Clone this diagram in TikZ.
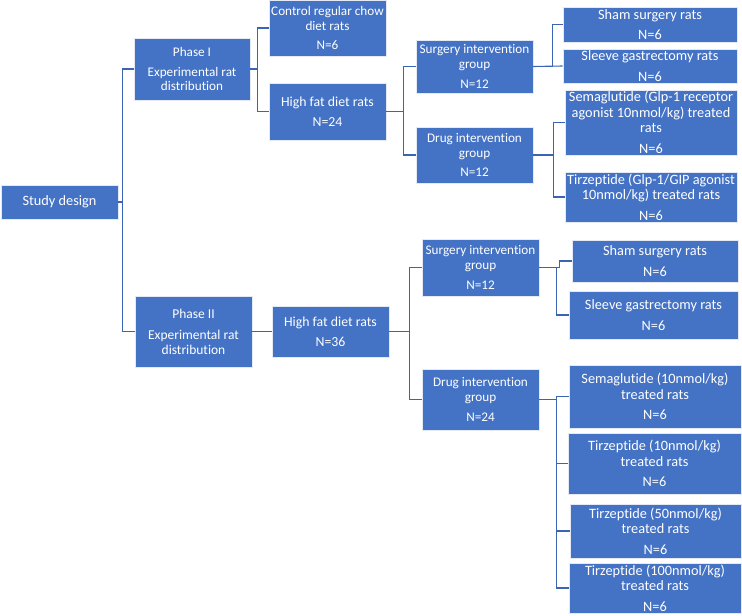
\documentclass[tikz,border=0pt]{standalone}
\usepackage{fontspec}
\setmainfont{Carlito}[Ligatures=NoCommon]
\usepackage{tikz}
\usetikzlibrary{arrows.meta, positioning}
\definecolor{sblue}{HTML}{4472C4}
\definecolor{sline}{HTML}{3B65B3}
\tikzset{
  sbox/.style={draw=white!85!sblue, fill=sblue, text=white, line width=0.6pt,
               inner sep=0pt, align=center,
               font=\fontsize{14.3}{15.5}\selectfont},
  nbox/.style={sbox, minimum width=117, font=\fontsize{13.2}{14.8}\selectfont},
  conn/.style={draw=sline, line width=1.1pt},
}

\begin{document}
\begin{tikzpicture}[x=1pt, y=-1pt]
  \useasboundingbox (0,0) rectangle (742,616);

  \node[sbox, minimum width=117, minimum height=34] (sd) at (59.5,202) {Study design};

  % phase I
  \node[nbox, minimum width=116, minimum height=62] (p1) at (192,69)
    {Phase I\\[5pt]Experimental rat\\distribution};
  \node[nbox, minimum height=56] (ctrl) at (327.5,28)
    {Control regular chow\\diet rats\\[5pt]N=6};
  \node[nbox, font=\fontsize{13.8}{15}\selectfont, minimum height=57] (hfd1) at (327.5,111.5)
    {High fat diet rats\\[5pt]N=24};
  \node[nbox, minimum height=53] (surg1) at (474.5,66.5)
    {Surgery intervention\\group\\[5pt]N=12};
  \node[nbox, minimum height=56] (drug1) at (474.5,155)
    {Drug intervention\\group\\[5pt]N=12};
  \node[sbox, minimum width=174, minimum height=35] (sham1) at (650,24.5)
    {Sham surgery rats\\[5pt]N=6};
  \node[sbox, minimum width=174, minimum height=34] (slv1) at (650,66)
    {Sleeve gastrectomy rats\\[5pt]N=6};
  \node[sbox, minimum width=172, minimum height=65] (sema1) at (651,122.5)
    {Semaglutide (Glp-1 receptor\\agonist 10nmol/kg) treated\\rats\\[5pt]N=6};
  \node[sbox, minimum width=172, minimum height=50] (tirz1) at (651,197)
    {Tirzeptide (Glp-1/GIP agonist\\10nmol/kg) treated rats\\[5pt]N=6};

  % phase II
  \node[nbox, font=\fontsize{13.5}{15}\selectfont, minimum height=71] (p2) at (193.5,331.5)
    {Phase II\\[6pt]Experimental rat\\distribution};
  \node[nbox, font=\fontsize{13.8}{15}\selectfont, minimum height=51] (hfd2) at (330.5,331.5)
    {High fat diet rats\\[5pt]N=36};
  \node[nbox, minimum height=57] (surg2) at (480.5,267.5)
    {Surgery intervention\\group\\[5pt]N=12};
  \node[nbox, minimum height=61] (drug2) at (480.5,399.5)
    {Drug intervention\\group\\[5pt]N=24};
  \node[sbox, minimum width=166, minimum height=42] (sham2) at (655,261)
    {Sham surgery rats\\[5pt]N=6};
  \node[sbox, minimum width=169, minimum height=48] (slv2) at (653.5,315)
    {Sleeve gastrectomy rats\\[5pt]N=6};
  \node[sbox, minimum width=172, minimum height=63] (sema2) at (655,396.5)
    {Semaglutide (10nmol/kg)\\treated rats\\[5pt]N=6};
  \node[sbox, minimum width=173, minimum height=61] (t10) at (654.5,463.5)
    {Tirzeptide (10nmol/kg)\\treated rats\\[5pt]N=6};
  \node[sbox, minimum width=171, minimum height=54] (t50) at (655.5,531)
    {Tirzeptide (50nmol/kg)\\treated rats\\[5pt]N=6};
  \node[sbox, minimum width=172, minimum height=50] (t100) at (655,588)
    {Tirzeptide (100nmol/kg)\\treated rats\\[5pt]N=6};

  % connectors
  \draw[conn] (sd.east) -- ++(4,0) |- (p1.west);
  \draw[conn] (sd.east) -- ++(4,0) |- (p2.west);
  \draw[conn] (p1.east) -- ++(7,0) |- (ctrl.west);
  \draw[conn] (p1.east) -- ++(7,0) |- (hfd1.west);
  \draw[conn] (hfd1.east) -- ++(17,0) |- (surg1.west);
  \draw[conn] (hfd1.east) -- ++(17,0) |- (drug1.west);
  \draw[conn] (surg1.east) -- ++(19,0) |- (sham1.west);
  \draw[conn] (surg1.east) -- (slv1.west);
  \draw[conn] (drug1.east) -- ++(20,0) |- (sema1.west);
  \draw[conn] (drug1.east) -- ++(20,0) |- (tirz1.west);
  \draw[conn] (p2.east) -- (hfd2.west);
  \draw[conn] (hfd2.east) -- ++(20,0) |- (surg2.west);
  \draw[conn] (hfd2.east) -- ++(20,0) |- (drug2.west);
  \draw[conn] (surg2.east) -- ++(20,0) |- (sham2.west);
  \draw[conn] (surg2.east) -- ++(17,0) |- (slv2.west);
  \draw[conn] (drug2.east) -- ++(17,0) |- (sema2.west);
  \draw[conn] (drug2.east) -- ++(17,0) |- (t10.west);
  \draw[conn] (drug2.east) -- ++(17,0) |- (t50.west);
  \draw[conn] (drug2.east) -- ++(17,0) |- (t100.west);
\end{tikzpicture}
\end{document}
